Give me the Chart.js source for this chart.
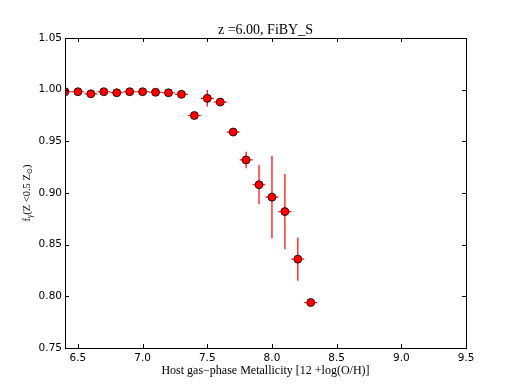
<!DOCTYPE html>
<html>
<head>
<meta charset="utf-8">
<script src="https://cdn.jsdelivr.net/npm/chart.js@4.4.1/dist/chart.umd.min.js"></script>
<style>
  html, body { margin: 0; padding: 0; background: #fff; }
  #wrap { width: 518px; height: 388px; }
</style>
</head>
<body>
<div id="wrap"><canvas id="c" width="518" height="388"></canvas></div>
<script>
// metallicity bins and escape fraction values
const metallicity = [6.4, 6.5, 6.6, 6.7, 6.8, 6.9, 7.0, 7.1, 7.2, 7.3,
                     7.4, 7.5, 7.6, 7.7, 7.8, 7.9, 8.0, 8.1, 8.2, 8.3];
const fraction = [0.998, 0.998, 0.996, 0.998, 0.997, 0.998, 0.998, 0.9975, 0.997, 0.9955,
                  0.975, 0.9916, 0.988, 0.959, 0.932, 0.908, 0.896, 0.882, 0.836, 0.794];
const fractionErr = [0.001, 0.001, 0.0015, 0.001, 0.001, 0.001, 0.001, 0.001, 0.001, 0.0015,
                     0.002, 0.008, 0.002, 0.003, 0.008, 0.019, 0.04, 0.0365, 0.021, 0.001];
const metallicityErr = [0.05, 0.05, 0.05, 0.05, 0.05, 0.05, 0.05, 0.05, 0.05, 0.05,
                        0.05, 0.05, 0.05, 0.05, 0.05, 0.05, 0.05, 0.05, 0.05, 0.05];
const xTicks = [6.5, 7.0, 7.5, 8.0, 8.5, 9.0, 9.5];
const yTicks = [0.75, 0.80, 0.85, 0.90, 0.95, 1.00, 1.05];

const TICK_FONT = { family: "'DejaVu Sans', sans-serif", size: 10.5 };
const SERIF = "'Liberation Serif', 'DejaVu Serif', serif";

// error bars, drawn under the markers
const errorBars = {
  id: 'errorBars',
  beforeDatasetsDraw(chart) {
    const ctx = chart.ctx, a = chart.chartArea;
    const xs = chart.scales.x, ys = chart.scales.y;
    ctx.save();
    ctx.beginPath();
    ctx.rect(a.left, a.top, a.right - a.left, a.bottom - a.top);
    ctx.clip();
    ctx.strokeStyle = '#ff0000';
    ctx.lineWidth = 1.2;
    metallicity.forEach((m, i) => {
      const f = fraction[i];
      const x0 = xs.getPixelForValue(m - metallicityErr[i]);
      const x1 = xs.getPixelForValue(m + metallicityErr[i]);
      const y0 = ys.getPixelForValue(f - fractionErr[i]);
      const y1 = ys.getPixelForValue(f + fractionErr[i]);
      const px = xs.getPixelForValue(m), py = ys.getPixelForValue(f);
      ctx.beginPath();
      ctx.moveTo(x0, py); ctx.lineTo(x1, py);
      ctx.moveTo(px, y0); ctx.lineTo(px, y1);
      ctx.stroke();
    });
    ctx.restore();
  }
};

// matplotlib-like frame with inward ticks on all four sides, plus title and y label
const frame = {
  id: 'frame',
  afterDraw(chart) {
    const ctx = chart.ctx, a = chart.chartArea;
    const xs = chart.scales.x, ys = chart.scales.y;
    const L = 4;
    ctx.save();
    ctx.strokeStyle = '#000';
    ctx.lineWidth = 1;
    ctx.beginPath();
    xTicks.forEach(v => {
      const x = Math.round(xs.getPixelForValue(v)) + 0.5;
      ctx.moveTo(x, a.bottom); ctx.lineTo(x, a.bottom - L);
      ctx.moveTo(x, a.top); ctx.lineTo(x, a.top + L);
    });
    yTicks.forEach(v => {
      const y = Math.round(ys.getPixelForValue(v)) + 0.5;
      ctx.moveTo(a.left, y); ctx.lineTo(a.left + L, y);
      ctx.moveTo(a.right, y); ctx.lineTo(a.right - L, y);
    });
    ctx.stroke();
    ctx.strokeRect(Math.round(a.left) + 0.5, Math.round(a.top) + 0.5,
                   Math.round(a.right - a.left), Math.round(a.bottom - a.top));

    // title
    ctx.fillStyle = '#000';
    ctx.font = '14px ' + SERIF;
    ctx.textAlign = 'center';
    ctx.textBaseline = 'middle';
    ctx.fillText('z =6.00, FiBY_S', (a.left + a.right) / 2, 30);

    // y label with subscripts
    const parts = [
      ['f', 0], ['\u03b3', 1], ['(Z <0.5 Z', 0], ['\u2299', 1], [')', 0]
    ];
    const big = '10.5px ' + SERIF, small = '7.5px ' + SERIF;
    let w = 0;
    parts.forEach(p => { ctx.font = p[1] ? small : big; w += ctx.measureText(p[0]).width; });
    ctx.translate(26, (a.top + a.bottom) / 2);
    ctx.rotate(-Math.PI / 2);
    ctx.textAlign = 'left';
    ctx.textBaseline = 'alphabetic';
    let x = -w / 2;
    parts.forEach(p => {
      ctx.font = p[1] ? small : big;
      ctx.fillText(p[0], x, p[1] ? 6 : 4);
      x += ctx.measureText(p[0]).width;
    });
    ctx.restore();
  }
};

new Chart(document.getElementById('c'), {
  type: 'scatter',
  data: {
    datasets: [{
      data: metallicity.map((m, i) => ({ x: m, y: fraction[i] })),
      backgroundColor: '#ff0000',
      borderColor: '#000',
      borderWidth: 0.8,
      pointRadius: 4,
      pointHoverRadius: 4,
      clip: 0
    }]
  },
  options: {
    responsive: false,
    animation: false,
    events: [],
    layout: { padding: { left: 0, right: 52, top: 38, bottom: 0 } },
    plugins: { legend: { display: false }, tooltip: { enabled: false }, title: { display: false } },
    scales: {
      x: {
        type: 'linear', min: 6.4, max: 9.5,
        afterBuildTicks: s => { s.ticks = xTicks.map(v => ({ value: v })); },
        afterFit: s => { s.height = 40; },
        grid: { display: false, drawTicks: false },
        border: { display: false },
        ticks: { color: '#000', font: TICK_FONT, padding: 4, maxRotation: 0,
                 callback: v => v.toFixed(1) },
        title: { display: true, text: 'Host gas\u2212phase Metallicity [12 +log(O/H)]',
                 color: '#000', font: { family: SERIF, size: 12 }, padding: { top: 2, bottom: 10 } }
      },
      y: {
        type: 'linear', min: 0.75, max: 1.05,
        afterBuildTicks: s => { s.ticks = yTicks.map(v => ({ value: v })); },
        afterFit: s => { s.width = 65; },
        grid: { display: false, drawTicks: false },
        border: { display: false },
        ticks: { color: '#000', font: TICK_FONT, padding: 3,
                 callback: v => v.toFixed(2) }
      }
    }
  },
  plugins: [errorBars, frame]
});
</script>
</body>
</html>
